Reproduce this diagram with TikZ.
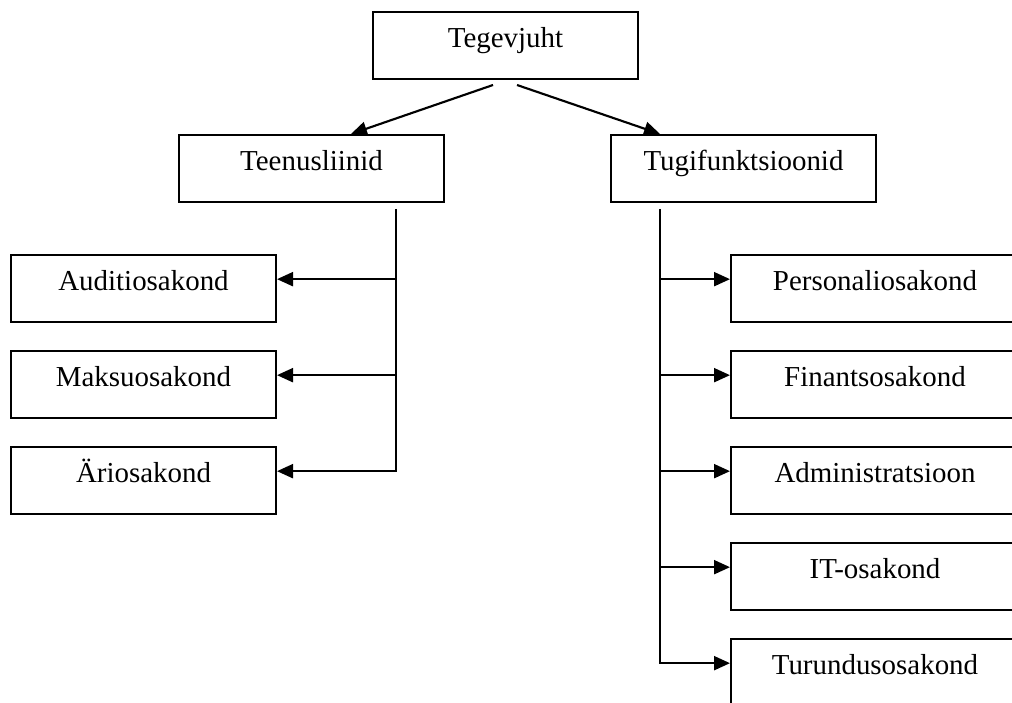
\documentclass[tikz,border=0pt]{standalone}
\usepackage{fontspec}
\setmainfont{Liberation Serif}
\usetikzlibrary{arrows.meta}

\begin{document}
\begin{tikzpicture}[x=0.75pt, y=-0.75pt,
		box/.style={draw, line width=1.5pt, minimum width=198.75pt, minimum height=50.25pt, inner sep=0pt,
			font=\fontsize{21.7}{26}\selectfont, text height=0.7em, text depth=0.38em},
		widebox/.style={box, minimum width=216pt},
		conn/.style={line width=1.6pt, -{Triangle[length=12pt, width=10.5pt]}}]
				\useasboundingbox (0,0) rectangle (1012,702);
				\clip (0,0) rectangle (1012,702);
				
				\node[box] (juht) at (505.5,45.5) {Tegevjuht};
				\node[box] (teen) at (311.5,168.5) {Teenusliinid};
				\node[box] (tugi) at (743.5,168.5) {Tugifunktsioonid};
				
				\node[box] (audit) at (143.5,288.5) {Auditiosakond};
				\node[box] (maksu) at (143.5,384.5) {Maksuosakond};
				\node[box] (ari) at (143.5,480.5) {Äriosakond};
				
				\node[widebox] (personal) at (875,288.5) {Personaliosakond};
				\node[widebox] (finants) at (875,384.5) {Finantsosakond};
				\node[widebox] (admin) at (875,480.5) {Administratsioon};
				\node[widebox] (it) at (875,576.5) {IT-osakond};
				\node[widebox] (turundus) at (875,672.5) {Turundusosakond};
				
				\draw[conn] ([shift={(-12.5,5)}]juht.south) -- ([xshift=29.6pt]teen.north);
				\draw[conn] ([shift={(11.5,5)}]juht.south) -- ([xshift=-62.6pt]tugi.north);
				
				\coordinate (teenbus) at ([shift={(84.5,6)}]teen.south);
				\coordinate (tugibus) at ([shift={(-83.5,6)}]tugi.south);
				
				\draw[conn] (teenbus) |- ([yshift=7pt]ari.east);
				\draw[conn] ([yshift=7pt]audit.east -| teenbus) -- ([yshift=7pt]audit.east);
				\draw[conn] ([yshift=7pt]maksu.east -| teenbus) -- ([yshift=7pt]maksu.east);
				
				\draw[conn] (tugibus) |- ([yshift=7pt]turundus.west);
				\draw[conn] ([yshift=7pt]personal.west -| tugibus) -- ([yshift=7pt]personal.west);
				\draw[conn] ([yshift=7pt]finants.west -| tugibus) -- ([yshift=7pt]finants.west);
				\draw[conn] ([yshift=7pt]admin.west -| tugibus) -- ([yshift=7pt]admin.west);
				\draw[conn] ([yshift=7pt]it.west -| tugibus) -- ([yshift=7pt]it.west);
\end{tikzpicture}
\end{document}
